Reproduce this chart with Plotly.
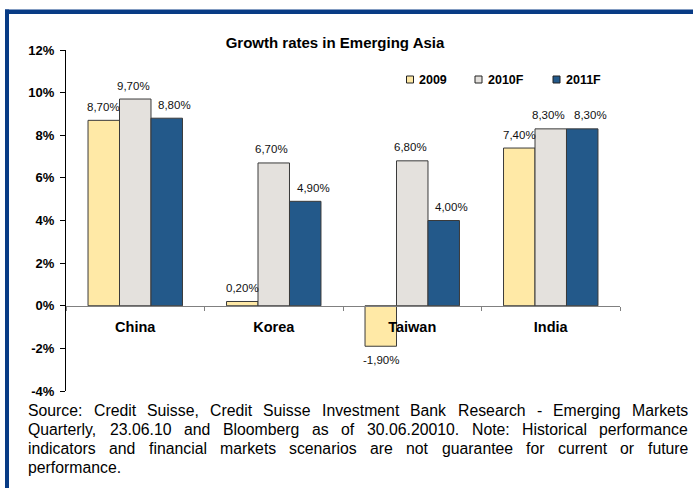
import plotly.graph_objects as go

# Data
countries = ["China", "Korea", "Taiwan", "India"]
series_names = ["2009", "2010F", "2011F"]
growth_2009 = [8.7, 0.2, -1.9, 7.4]
growth_2010f = [9.7, 6.7, 6.8, 8.3]
growth_2011f = [8.8, 4.9, 4.0, 8.3]
y_tick_values = [-4, -2, 0, 2, 4, 6, 8, 10, 12]
y_tick_labels = ["-4%", "-2%", "0%", "2%", "4%", "6%", "8%", "10%", "12%"]
title_text = "Growth rates in Emerging Asia"
footer_lines = [
    "Source: Credit Suisse, Credit Suisse Investment Bank Research - Emerging Markets",
    "Quarterly, 23.06.10 and Bloomberg as of 30.06.20010. Note: Historical performance",
    "indicators and financial markets scenarios are not guarantee for current or future",
    "performance.",
]

# Styling
colors = ["#FFE9A6", "#E4E1DD", "#23598A"]
label_xshift = [0, -2, 8]
FONT = "Liberation Sans, Arial, sans-serif"
W, H = 693, 488
L, R, T, B = 66, 620, 50, 391
BARGAP = 0.318
Y_MIN, Y_MAX = -4, 12


def px(x):
    return (x - L) / (R - L)


def py(y):
    return (B - y) / (B - T)


fig = go.Figure()
all_series = [growth_2009, growth_2010f, growth_2011f]
for name, vals, col in zip(series_names, all_series, colors):
    fig.add_trace(go.Bar(
        x=countries, y=vals, name=name,
        marker=dict(color=col, line=dict(color="#3a3a3a", width=1)),
        showlegend=False, hoverinfo="skip",
    ))

# Value labels above / below each bar
bar_w = (1 - BARGAP) / 3
annotations = []
for s, vals in enumerate(all_series):
    offset = (s - 1) * bar_w
    for i, v in enumerate(vals):
        annotations.append(dict(
            x=i + offset, y=v, xref="x", yref="y",
            text=f"{v:.2f}".replace(".", ",") + "%",
            showarrow=False, xanchor="center", yanchor="middle",
            yshift=13.5 if v >= 0 else -13.5, xshift=label_xshift[s],
            font=dict(family=FONT, size=11.5, color="#111111"),
        ))

# Legend drawn as swatches + bold labels
legend_swatch_x = [410, 478.5, 556.5]
legend_text_x = [417.5, 486.5, 564.5]
shapes = []
for name, col, sx, tx in zip(series_names, colors, legend_swatch_x, legend_text_x):
    shapes.append(dict(type="rect", xref="paper", yref="paper",
                       x0=px(sx - 3.5), x1=px(sx + 3.5), y0=py(83), y1=py(76),
                       fillcolor=col, line=dict(color="#222222", width=1)))
    annotations.append(dict(x=px(tx), y=py(79.5), xref="paper", yref="paper",
                            text=name, showarrow=False, xanchor="left", yanchor="middle",
                            borderpad=0,
                            font=dict(family=FONT, size=12.5, color="#000000", weight="bold")))

# Blue frame (top and left edges)
frame_col = "#083B85"
shapes.append(dict(type="rect", xref="paper", yref="paper", layer="above",
                   x0=px(5), x1=px(W + 10), y0=py(14), y1=py(9.5),
                   fillcolor=frame_col, line=dict(width=0)))
shapes.append(dict(type="rect", xref="paper", yref="paper", layer="above",
                   x0=px(5), x1=px(9), y0=py(H + 10), y1=py(9.5),
                   fillcolor=frame_col, line=dict(width=0)))

# Justified source note, word by word using Arial advance widths
ARIAL = {" ": 278, ",": 278, "-": 333, ".": 278, ":": 278, "%": 889}
for ch in "0123456789":
    ARIAL[ch] = 556
ARIAL.update({
    "A": 667, "B": 667, "C": 722, "D": 722, "E": 667, "F": 611, "G": 778, "H": 722,
    "I": 278, "J": 500, "K": 667, "L": 556, "M": 833, "N": 722, "O": 778, "P": 667,
    "Q": 778, "R": 722, "S": 667, "T": 611, "U": 722, "V": 667, "W": 944, "X": 667,
    "Y": 667, "Z": 611,
    "a": 556, "b": 556, "c": 500, "d": 556, "e": 556, "f": 278, "g": 556, "h": 556,
    "i": 222, "j": 222, "k": 500, "l": 222, "m": 833, "n": 556, "o": 556, "p": 556,
    "q": 556, "r": 333, "s": 500, "t": 278, "u": 556, "v": 500, "w": 722, "x": 500,
    "y": 500, "z": 500,
})
FOOT_SIZE = 15.8
FOOT_LEFT, FOOT_RIGHT = 27, 687
FOOT_BASE0, FOOT_STEP = 415.8, 19.2


def text_w(word):
    return sum(ARIAL.get(c, 556) for c in word) * FOOT_SIZE / 1000


for li, line in enumerate(footer_lines):
    words = line.split(" ")
    cy = FOOT_BASE0 + li * FOOT_STEP - 0.35 * FOOT_SIZE
    widths = [text_w(w) for w in words]
    last = li == len(footer_lines) - 1
    if last or len(words) == 1:
        gap = text_w(" ")
    else:
        gap = (FOOT_RIGHT - FOOT_LEFT - sum(widths)) / (len(words) - 1)
    x = FOOT_LEFT
    for w, wd in zip(words, widths):
        annotations.append(dict(x=px(x), y=py(cy), xref="paper", yref="paper",
                                text=w, showarrow=False, xanchor="left", yanchor="middle",
                                borderpad=0,
                                font=dict(family=FONT, size=FOOT_SIZE, color="#000000")))
        x += wd + gap

fig.update_layout(
    width=W, height=H,
    margin=dict(l=L, r=W - R, t=T, b=H - B, pad=0),
    paper_bgcolor="white", plot_bgcolor="white",
    barmode="group", bargap=BARGAP, bargroupgap=0,
    font=dict(family=FONT, color="#000000"),
    title=dict(text=title_text, x=335 / W, xanchor="center",
               y=1 - 43.2 / H, yanchor="middle", yref="container",
               font=dict(family=FONT, size=15, color="#000000", weight="bold")),
    xaxis=dict(
        type="category", anchor="free",
        position=(0 - Y_MIN) / (Y_MAX - Y_MIN),
        showline=True, linecolor="#808080", linewidth=1,
        ticks="outside", tickson="boundaries", ticklen=4, tickcolor="#808080",
        showgrid=False, zeroline=False,
        tickfont=dict(family=FONT, size=14.5, color="#000000", weight="bold"),
        ticklabelstandoff=8,
    ),
    yaxis=dict(
        range=[Y_MIN, Y_MAX], tickvals=y_tick_values, ticktext=y_tick_labels,
        showline=True, linecolor="#000000", linewidth=1,
        ticks="outside", ticklen=5, tickcolor="#000000",
        showgrid=False, zeroline=False,
        tickfont=dict(family=FONT, size=13, color="#000000", weight="bold"),
        ticklabelstandoff=3,
    ),
    annotations=annotations, shapes=shapes,
)

fig.write_html("out.html")
